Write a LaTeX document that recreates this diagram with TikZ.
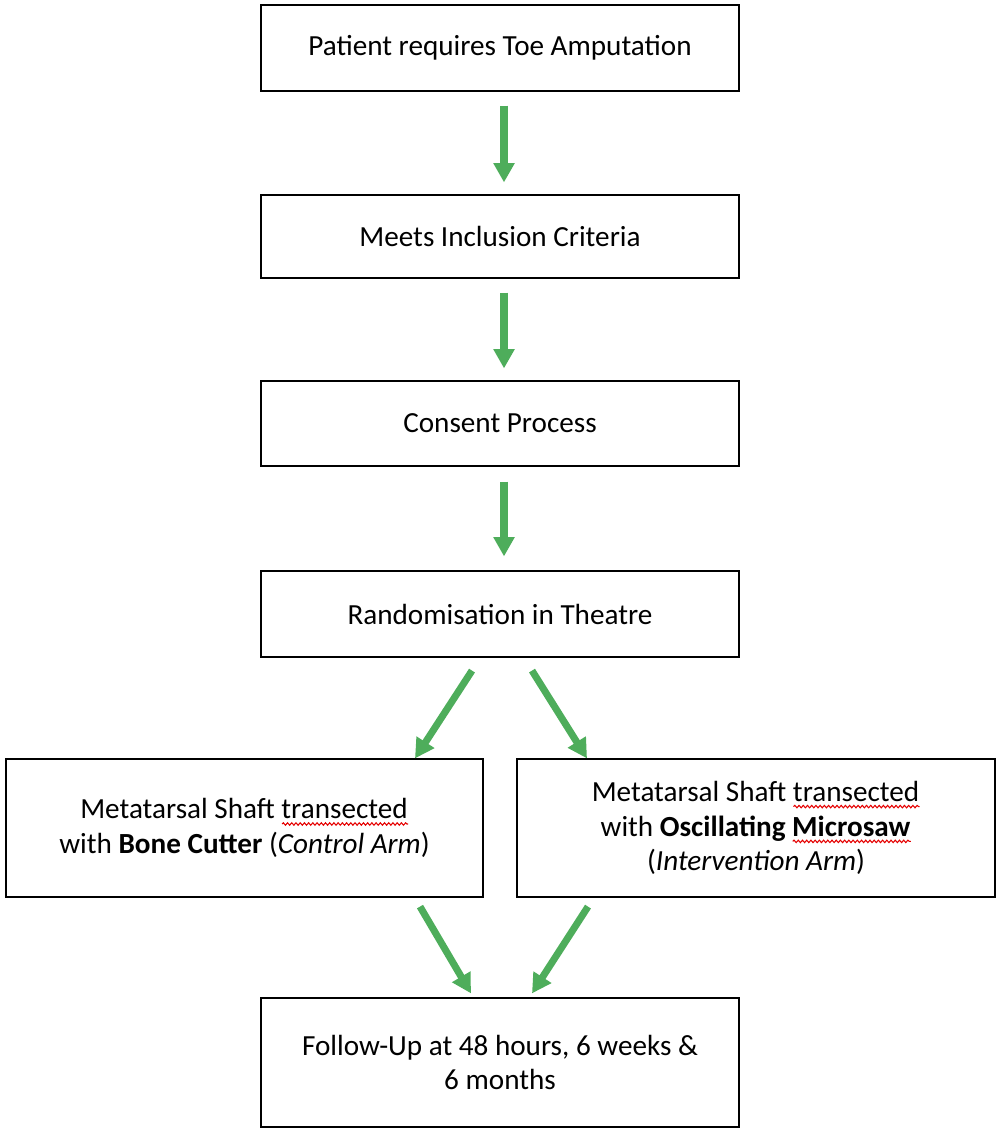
\documentclass[tikz,border=0pt]{standalone}
\usepackage{fontspec}
\setmainfont{Carlito}
\usetikzlibrary{arrows.meta,calc,decorations.pathmorphing}
\definecolor{arrgreen}{RGB}{78,173,91}
\newcommand\wavy[1]{\setbox0\hbox{#1}\leavevmode\rlap{\copy0}\tikz[baseline=0pt]\draw[red!90!black,line width=0.6pt,decorate,decoration={snake,amplitude=0.7pt,segment length=2.4pt}] (0pt,-3pt) -- (\wd0,-3pt);}
\begin{document}
\begin{tikzpicture}[x=0.02cm,y=-0.02cm,
  box/.style={draw=black,line width=0.7pt,rectangle,inner sep=0pt,align=center,
    font=\fontsize{16.6}{19.8}\selectfont},
  arr/.style={draw=arrgreen,line width=4pt,-{Triangle[length=11pt,width=11.5pt]}}]
\useasboundingbox (0,0) rectangle (1000,1132);
\node[box,minimum width=9.56cm,minimum height=1.72cm] (b1) at (500,48) {Patient requires Toe Amputation};
\node[box,minimum width=9.56cm,minimum height=1.66cm] (b2) at (500,236.5) {Meets Inclusion Criteria};
\node[box,minimum width=9.56cm,minimum height=1.70cm] (b3) at (500,423.5) {Consent Process};
\node[box,minimum width=9.56cm,minimum height=1.72cm] (b4) at (500,614) {Randomisation in Theatre};
\node[box,minimum width=9.54cm,minimum height=2.76cm] (bl) at (244.5,828) {Metatarsal Shaft \wavy{transected}\\with \textbf{Bone Cutter} (\textit{Control Arm})};
\node[box,minimum width=9.56cm,minimum height=2.76cm] (br) at (756,828) {Metatarsal Shaft \wavy{transected}\\with \textbf{Oscillating \wavy{Microsaw}}\\(\textit{Intervention Arm})};
\node[box,minimum width=9.56cm,minimum height=2.58cm] (b5) at (500,1062.5) {Follow-Up at 48 hours, 6 weeks \&\\6 months};
\draw[arr,shorten <=0.28cm,shorten >=0.24cm] ([xshift=0.08cm]b1.south) -- ([xshift=0.08cm]b2.north);
\draw[arr,shorten <=0.28cm,shorten >=0.24cm] ([xshift=0.08cm]b2.south) -- ([xshift=0.08cm]b3.north);
\draw[arr,shorten <=0.30cm,shorten >=0.28cm] ([xshift=0.08cm]b3.south) -- ([xshift=0.08cm]b4.north);
\draw[arr] ($(b4.south)+(-28,13)$) -- ($(bl.north)+(170.5,0)$);
\draw[arr] ($(b4.south)+(32,13)$) -- ($(br.north)+(-169,0)$);
\draw[arr] ($(bl.south)+(175.5,9)$) -- ($(b5.north)+(-29,-4)$);
\draw[arr] ($(br.south)+(-168,9)$) -- ($(b5.north)+(32,-4)$);
\end{tikzpicture}
\end{document}
